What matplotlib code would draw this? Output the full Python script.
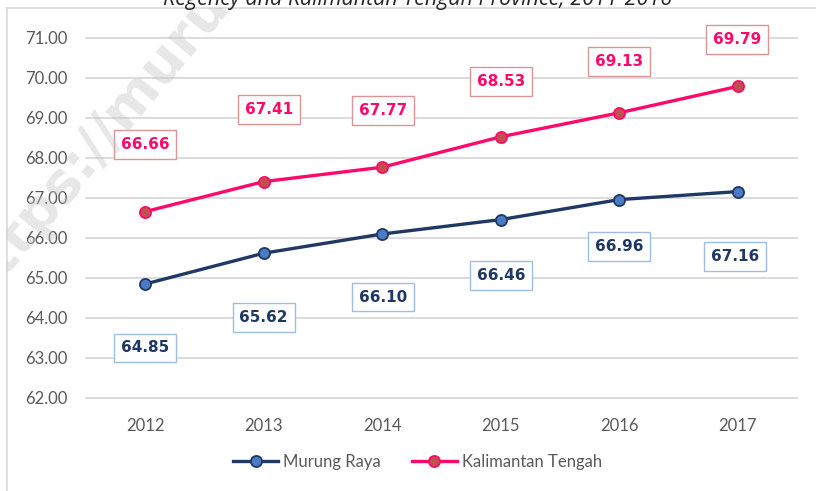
import matplotlib
matplotlib.use("Agg")
import matplotlib.pyplot as plt
from matplotlib.lines import Line2D
from matplotlib.patches import Rectangle

# ---- data ----
years = ["2012", "2013", "2014", "2015", "2016", "2017"]
murung_raya = [64.85, 65.62, 66.10, 66.46, 66.96, 67.16]
kalimantan_tengah = [66.66, 67.41, 67.77, 68.53, 69.13, 69.79]
y_ticks = [62, 63, 64, 65, 66, 67, 68, 69, 70, 71]
title_text = "Regency and Kalimantan Tengah Province, 2011-2016"
watermark_text = "https://murungrayakab.bps.go.id"

# label offsets (pixels, from point to label centre)
kal_offsets = [(0, 67), (5, 72), (1, 57), (0, 55), (0, 51), (-1, 47)]
mur_offsets = [(0, -64), (0, -64), (1, -63), (0, -56), (0, -47), (-3, -65)]

W, H = 816, 491
DPI = 100
PX = 72.0 / DPI  # points per pixel

fig = plt.figure(figsize=(W / DPI, H / DPI), dpi=DPI)
fig.patch.set_facecolor("white")

def fx(x):
    return x / W

def fy(y):
    return 1 - y / H

# frame lines (left and top)
fig.add_artist(Line2D([fx(7), fx(7)], [fy(8), 0], color="#d9d9d9", lw=1.2))
fig.add_artist(Line2D([fx(7), 1], [fy(8), fy(8)], color="#d9d9d9", lw=1.2))

# clipped title at the top
fig.text(fx(418), fy(4.5), title_text, ha="center", va="baseline",
         fontsize=15.5, style="italic", family="Open Sans", color="#262626")

ax = fig.add_axes([fx(86), fy(398), fx(797) - fx(86), (398 - 38) / H])
x = list(range(len(years)))
ax.set_xlim(-0.5, len(years) - 0.5)
ax.set_ylim(62, 71)
ax.set_yticks(y_ticks)
ax.set_yticklabels([f"{v:.2f}" for v in y_ticks])
ax.set_xticks(x)
ax.set_xticklabels(years)
for s in ax.spines.values():
    s.set_visible(False)
ax.tick_params(axis="both", length=0, labelsize=12, labelcolor="#595959")
ax.tick_params(axis="x", pad=14.5)
ax.tick_params(axis="y", pad=13.5)
for lab in ax.get_xticklabels() + ax.get_yticklabels():
    lab.set_family("Lato")
ax.grid(axis="y", color="#d9d9d9", lw=1.3)
ax.set_axisbelow(True)
for gl in ax.get_ygridlines():
    gl.set_clip_on(False)

navy = "#1f3864"
pink = "#ff0a6a"
ax.plot(x, murung_raya, color=navy, lw=2.4, marker="o", ms=8,
        mfc="#4a7cc4", mec=navy, mew=1.3, label="Murung Raya", zorder=3)
ax.plot(x, kalimantan_tengah, color=pink, lw=2.4, marker="o", ms=8,
        mfc="#c0504d", mec=pink, mew=1.3, label="Kalimantan Tengah", zorder=3)

for xi, v, (dx, dy) in zip(x, kalimantan_tengah, kal_offsets):
    ax.annotate(f"{v:.2f}", (xi, v), xytext=(dx * PX, dy * PX),
                textcoords="offset points", ha="center", va="center",
                fontsize=11, fontweight="bold", family="DejaVu Sans", color=pink,
                bbox=dict(boxstyle="square,pad=0.45", fc="white", ec="#d99694", lw=1.0),
                zorder=5)
for xi, v, (dx, dy) in zip(x, murung_raya, mur_offsets):
    ax.annotate(f"{v:.2f}", (xi, v), xytext=(dx * PX, dy * PX),
                textcoords="offset points", ha="center", va="center",
                fontsize=11, fontweight="bold", family="DejaVu Sans", color=navy,
                bbox=dict(boxstyle="square,pad=0.45", fc="white", ec="#9dbde6", lw=1.0),
                zorder=5)

leg = fig.legend(loc="center", bbox_to_anchor=(fx(417.5), fy(462)), ncol=2,
                 frameon=False, prop={"family": "Lato", "size": 12},
                 handlelength=2.7, handletextpad=0.3, columnspacing=1.85)
for t in leg.get_texts():
    t.set_color("#595959")

# watermark, clipped to frame
clip_rect = Rectangle((7, 0), W, H - 8, transform=None, visible=False)
fig.add_artist(clip_rect)
wm = fig.text(fx(-22), fy(305), watermark_text, rotation=50, rotation_mode="anchor",
              ha="left", va="baseline", fontsize=40, fontweight="bold",
              family="DejaVu Sans", color="#c4c4c4", alpha=0.4, zorder=10)
wm.set_clip_path(clip_rect)

fig.savefig("out.png", dpi=DPI)
